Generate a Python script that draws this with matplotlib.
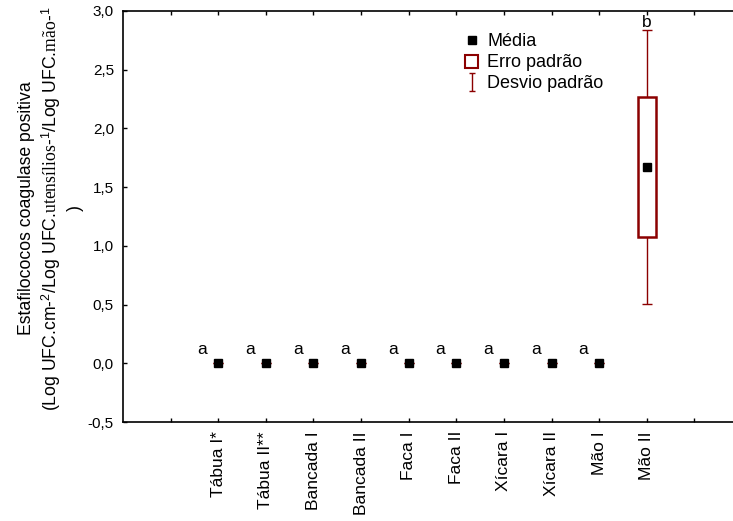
import matplotlib
matplotlib.use('Agg')
import matplotlib.pyplot as plt
from matplotlib.lines import Line2D
from matplotlib.patches import Patch
from matplotlib.path import Path
import numpy as np

plt.rcParams['font.family'] = ['Liberation Sans', 'DejaVu Sans']
plt.rcParams['mathtext.fontset'] = 'custom'
plt.rcParams['mathtext.rm'] = 'Liberation Serif'
plt.rcParams['mathtext.sf'] = 'Liberation Sans'
plt.rcParams['mathtext.it'] = 'Liberation Serif:italic'

# data
categorias = ['Tábua I*', 'Tábua II**', 'Bancada I', 'Bancada II', 'Faca I',
              'Faca II', 'Xícara I', 'Xícara II', 'Mão I', 'Mão II']
media = [0, 0, 0, 0, 0, 0, 0, 0, 0, 1.67]
erro_padrao = [0, 0, 0, 0, 0, 0, 0, 0, 0, 0.595]
desvio_padrao = [0, 0, 0, 0, 0, 0, 0, 0, 0, 1.165]
letras = ['a', 'a', 'a', 'a', 'a', 'a', 'a', 'a', 'a', 'b']

VERMELHO = '#8B0000'

fig = plt.figure(figsize=(7.33, 5.21), dpi=100)
# right edge of the axes falls just outside the picture, as in the original
ax = fig.add_axes([123 / 733, 99 / 521, 619 / 733, 411 / 521])

x = np.arange(1, len(categorias) + 1)
media = np.array(media)
erro_padrao = np.array(erro_padrao)
desvio_padrao = np.array(desvio_padrao)

# whiskers (standard deviation)
ax.errorbar(x, media, yerr=desvio_padrao, fmt='none', ecolor=VERMELHO,
            elinewidth=1, capsize=3.6, capthick=1, zorder=1)
# boxes (standard error), only where there is a spread
tem_erro = erro_padrao > 0
ax.bar(x[tem_erro], 2 * erro_padrao[tem_erro],
       bottom=(media - erro_padrao)[tem_erro], width=0.385,
       facecolor='white', edgecolor=VERMELHO, linewidth=1.8, zorder=2)
# means
ax.plot(x, media, 's', color='black', markersize=6.3, linestyle='none', zorder=3)

# significance letters
for xi, m, d, letra in zip(x, media, desvio_padrao, letras):
    if d > 0:
        ax.text(xi, m + d + 0.07, letra, ha='center', va='center', fontsize=12.5)
    else:
        ax.text(xi - 0.33, m + 0.12, letra, ha='center', va='center', fontsize=12.5)

ax.set_xlim(-1, 12)
ax.set_ylim(-0.5, 3.0)
ax.set_xticks(np.arange(0, len(categorias) + 2))
ax.set_xticklabels([''] + categorias + [''], rotation=90, fontsize=12.5)
yt = np.arange(-0.5, 3.01, 0.5)
ax.set_yticks(yt)
ax.set_yticklabels([f'{v:.1f}'.replace('.', ',') for v in yt], fontsize=11)
ax.tick_params(direction='in', length=3, width=1, top=True, right=True)
ax.tick_params(axis='x', pad=6.5)
ax.tick_params(axis='y', pad=6.5)

for s in ax.spines.values():
    s.set_linewidth(1.2)

fig.text(51 / 733, 0.60,
         'Estafilococos coagulase positiva\n'
         '(Log UFC.cm-$^{\\mathsf{2}}$/Log UFC.$\\mathrm{utensílios}$-$^{\\mathsf{1}}$'
         '/Log UFC.$\\mathrm{mão}$-$^{\\mathsf{1}}$\n)',
         rotation=90, ha='center', va='center', multialignment='center',
         fontsize=12.7, linespacing=1.25)

# I-shaped symbol for the whisker entry
marca_desvio = Path([(-0.35, -1), (0.35, -1), (0, -1), (0, 1), (-0.35, 1), (0.35, 1)],
                    [Path.MOVETO, Path.LINETO, Path.MOVETO, Path.LINETO,
                     Path.MOVETO, Path.LINETO])
handles = [
    Line2D([], [], marker='s', color='black', linestyle='none', markersize=6.3),
    Patch(facecolor='white', edgecolor=VERMELHO, linewidth=1.5),
    Line2D([], [], marker=marca_desvio, linestyle='none', markersize=13,
           markeredgecolor=VERMELHO, markerfacecolor='none', markeredgewidth=1),
]
ax.legend(handles, ['Média', 'Erro padrão', 'Desvio padrão'],
          loc='upper left', bbox_to_anchor=(0.541, 0.963), frameon=False,
          fontsize=13, handlelength=0.72, handleheight=0.72, handletextpad=0.5,
          labelspacing=0.22, borderaxespad=0)

fig.savefig('out.png', dpi=100)
